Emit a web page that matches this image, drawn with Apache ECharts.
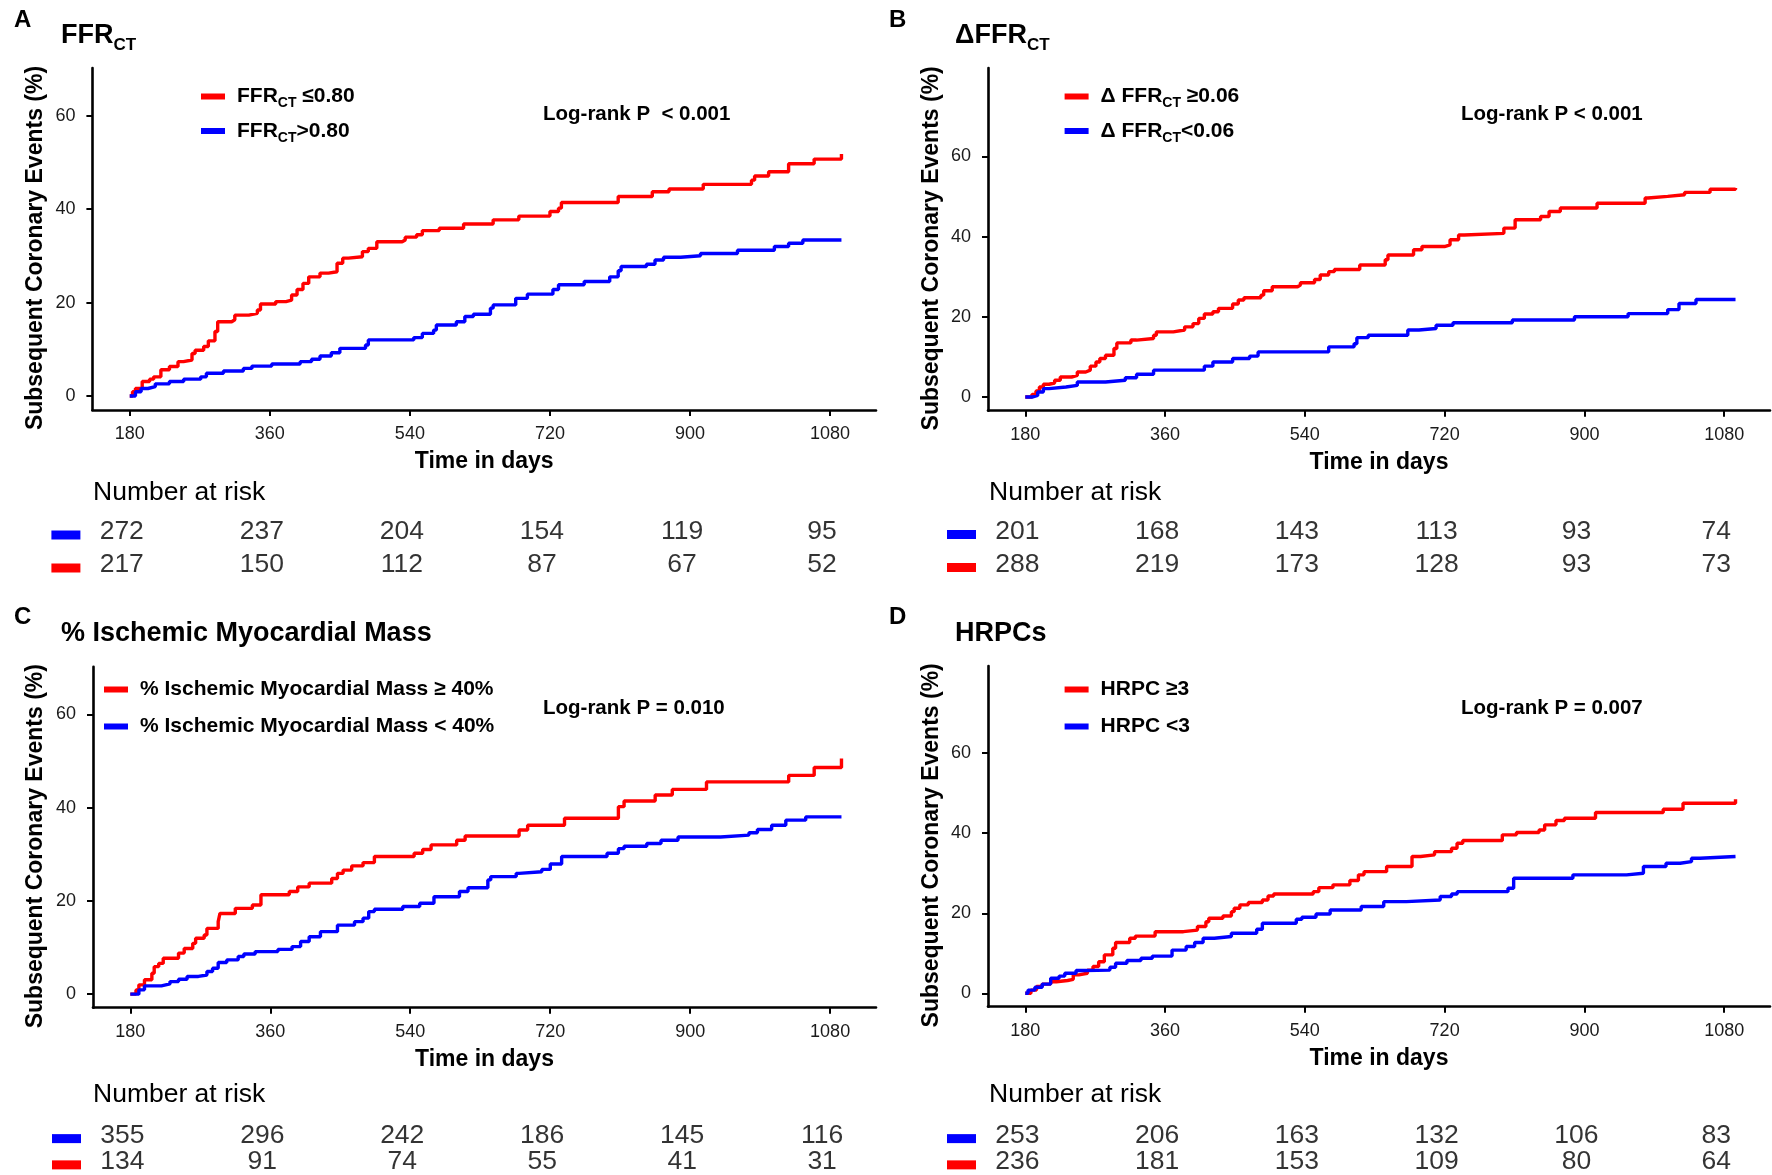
<!DOCTYPE html>
<html><head><meta charset="utf-8">
<script src="https://cdn.jsdelivr.net/npm/echarts/dist/echarts.min.js"></script>
<style>html,body{margin:0;padding:0;background:#fff}#c{width:1772px;height:1175px}</style>
</head><body><div id="c"></div>
<script>
// ---------- data ----------
const xTicks = [180, 360, 540, 720, 900, 1080];
const yTicks = [0, 20, 40, 60];

// Panel A: FFRct
const ffrLowT = [180,183.6,187.3,196,205.5,210.7,220,231,242,249,260,264,275,281,289.5,293,311,315,333,344,348,367.6,380.7,388,395,402.6,410,424.5,435.5,446.4,453.7,461,479,486.6,497.5,530,534,548.6,556,577.8,609,647,680,720,731,734.7,807.7,851.5,873,917,979,983,1001,1026.7,1059.5,1094.6];
const ffrLowV = [0,0.9,1.6,3.1,3.6,4.1,5.6,6.3,7.35,7.7,9.1,9.8,10.6,11.8,13.8,15.9,16.3,17.3,17.7,18.4,19.7,20.2,20.5,21.6,22.8,24.1,25.5,26.3,26.6,28.4,29.5,29.8,30.9,31.6,33.0,33.4,34.0,34.5,35.4,35.9,36.8,37.7,38.5,39.5,40.2,41.4,42.7,43.7,44.3,45.3,46.2,47.1,48.0,49.7,50.7,51.8];
const ffrHighT = [180,187.3,194.6,203.4,212.8,231,249.3,271.2,278.5,300.4,326,337,362.5,399,413.6,424.5,439,450,483,486.6,545,556,570.5,574,599.7,610.6,621.6,643.5,647,676,691,723.8,731,764,796.8,807.7,811.4,844,855,866,888,913.5,961,1008.4,1026.7,1045,1094.6];
const ffrHighV = [0,0.9,1.6,2.0,2.6,3.1,3.6,4.1,4.85,5.35,5.9,6.4,6.85,7.35,7.85,8.55,9.25,10.2,10.9,12.0,12.5,13.4,14.1,15.2,15.9,17.0,17.5,18.8,19.5,20.9,21.8,22.8,23.8,24.5,25.5,26.8,27.7,28.2,29.1,29.7,30.0,30.5,31.2,32.0,32.7,33.4,33.4];
const riskA_blue = [272, 237, 204, 154, 119, 95];
const riskA_red  = [217, 150, 112, 87, 67, 52];

// Panel B: delta FFRct
const dffrHighT = [180,188.7,193.8,198.2,203.3,210.6,217.8,225.1,239.7,247,257.9,263.7,271,276,283.3,294.2,297.9,316,323.3,345.2,348.8,370.6,385.2,396,403.4,410.6,421.6,428.8,447,454.3,461.6,483.4,487,498,530.7,534.3,552.5,559.8,570.7,578,610.7,643.5,647,680,690.8,719.9,727,738,745.3,796.3,810.8,843.6,854.5,869,916.3,978.2,981.8,1007.3,1029,1061.8,1094.6];
const dffrHighV = [0,0.67,1.5,2.5,3.2,3.5,4.2,5.0,5.4,6.25,6.7,7.7,8.75,9.6,10.4,12.1,13.5,14.2,14.6,15.4,16.25,16.7,17.5,18.3,19.6,20.7,21.25,22.1,23.2,24.2,24.75,25.4,26.5,27.5,27.9,28.5,29.3,30.4,31.25,31.8,32.9,34.2,35.4,36.7,37.5,37.9,39.2,40.4,40.8,42.1,44.2,45.0,46.25,47.1,48.3,49.6,50.0,50.4,51.0,51.8,52.1];
const dffrLowT = [180,188.7,196,203.3,210.6,232.4,247,283.3,308.8,323.3,345.2,410.6,421.6,447,468.9,479.8,570.7,603.4,607,621.6,672.6,687,709,730.8,807.2,887.2,956.3,1007.3,1021.8,1043.7,1094.6];
const dffrLowV = [0,0.4,1.25,2.1,2.5,2.9,3.75,4.2,4.8,5.7,6.7,7.7,8.75,9.6,10.2,11.25,12.5,13.3,14.8,15.4,16.7,17.1,17.9,18.5,19.2,20.0,20.8,21.8,23.3,24.3,24.3];
const riskB_blue = [201, 168, 143, 113, 93, 74];
const riskB_red  = [288, 219, 173, 128, 93, 73];

// Panel C: % ischemic myocardial mass
const ischHighT = [180,187.3,191,198.2,207.7,210.7,216.5,222.3,242,249.3,260.3,264,275,278.5,293,295.3,315,337,348,384.4,395.3,410,439,446.4,453.7,464.7,479.3,493.9,545,556,566.8,599.7,610.6,680,691,738.4,807.7,815,855,877,921,1026.7,1059.5,1094.6];
const ischHighV = [0,0.9,2.0,3.1,4.5,5.9,6.6,7.7,8.8,9.8,10.9,12.0,12.7,14.1,15.55,17.3,18.4,19.1,21.3,22.0,23.0,23.8,24.8,25.9,26.6,27.5,28.2,29.5,30.2,31.0,32.0,33.0,33.9,35.2,36.2,37.7,40.2,41.4,42.7,43.9,45.5,46.9,48.6,50.5];
const ischLowT = [180,191,198.2,220,231,242,253,267.6,278.5,285.8,293,304,318.7,326,340.6,369.8,388,399,410,424.5,446.4,468.3,479.3,486.6,493.9,530.4,552.2,570.5,603.3,614.3,639.8,643.5,676.3,680,709.2,720.1,734.7,793.1,807.7,815,844.2,862.5,884.4,939.1,975.6,986.5,1004.8,1023,1048.6,1094.6];
const ischLowV = [0,0.93,1.78,2.2,2.7,3.2,3.8,4.1,4.85,5.56,6.78,7.35,8.06,8.6,9.13,9.6,10.2,11.3,12.3,13.4,14.8,15.55,16.3,17.7,18.2,18.8,19.5,20.9,22.0,22.8,24.5,25.2,25.9,26.25,26.75,27.9,29.5,30.2,31.2,31.7,32.3,33.0,33.7,34.1,34.6,35.3,36.2,37.3,38.0,38.0];
const riskC_blue = [355, 296, 242, 186, 145, 116];
const riskC_red  = [134, 91, 74, 55, 41, 31];

// Panel D: HRPCs
const hrpcHighT = [180,187.3,194.5,201.8,212.7,220,234.5,241.8,249,260,267.2,274.5,281.8,292.7,296.3,314.5,321.8,347.2,383.6,401.7,412.6,416.3,434.5,445.4,449,456.3,467.2,485.3,492.6,499.9,550.8,558,576.2,598,609,616.2,645.3,678,689,707,728.9,736,743.4,794.3,812.5,841.6,848.8,863.4,874.3,914.3,1001.5,1027,1094.6];
const hrpcHighV = [0,0.8,1.7,2.3,2.9,3.2,3.5,4.6,5.0,5.8,6.7,7.9,9.6,11.25,12.7,13.75,14.3,15.4,15.8,16.7,17.9,18.75,19.3,20.4,21.25,22.1,22.7,23.3,24.3,24.8,25.4,26.4,27.1,28.2,29.6,30.4,31.7,34.2,34.6,35.4,36.25,37.5,38.2,39.6,40.2,40.8,42.1,43.2,43.75,45.2,46.0,47.5,48.5];
const hrpcLowT = [180,183.6,192.4,201.8,212.7,223.6,230.9,245.4,256.3,289,296.3,310.9,329,343.6,369,387.2,398.1,409,423.5,445.4,478,485.3,529,536.2,554.4,572.6,612.6,641.6,670.7,714.3,728.9,736.2,801.6,808.9,885.2,954.3,976,1005.1,1023.3,1037.9,1048.8,1094.6];
const hrpcLowV = [0,0.8,1.5,2.3,3.75,4.3,5.0,5.7,5.8,6.5,7.5,8.2,8.75,9.3,10.8,11.7,12.7,13.75,14.2,15.0,16.0,17.5,18.5,19.0,19.8,20.8,21.7,22.9,23.3,24.2,24.8,25.4,26.25,28.75,29.6,30.0,31.7,32.5,32.9,33.75,34.2,34.2];
const riskD_blue = [253, 206, 163, 132, 106, 83];
const riskD_red  = [236, 181, 153, 109, 80, 64];

// ---------- layout / style ----------
const FONT = '"Liberation Sans", Arial, Helvetica, sans-serif';
const RED = '#FF0000', BLUE = '#0000FF';
const panels = [
  {letter:'A', title:'{m|FFR}{s|CT}', lr:'Log-rank P  < 0.001',
   redName:'{m|FFR}{s|CT}{m| ≤0.80}', blueName:'{m|FFR}{s|CT}{m|>0.80}',
   red:[ffrLowT, ffrLowV], blue:[ffrHighT, ffrHighV], riskBlue:riskA_blue, riskRed:riskA_red,
   gl:92.4, gt:68, gw:783.6, gh:342, ymin:-3, ymax:70.2,
   lx:0, ly:0, rTop:515.5, rH:66, keyX:201, lgTop:86, lgGap:10},
  {letter:'B', title:'{m|ΔFFR}{s|CT}', lr:'Log-rank P < 0.001',
   redName:'{m|Δ FFR}{s|CT}{m| ≥0.06}', blueName:'{m|Δ FFR}{s|CT}{m|<0.06}',
   red:[dffrHighT, dffrHighV], blue:[dffrLowT, dffrLowV], riskBlue:riskB_blue, riskRed:riskB_red,
   gl:988, gt:68, gw:782, gh:342.7, ymin:-3.4, ymax:82,
   lx:895.6, ly:0, rTop:515, rH:66, keyX:1064.6, lgTop:86, lgGap:10},
  {letter:'C', title:'{m|% Ischemic Myocardial Mass}', lr:'Log-rank P = 0.010',
   redName:'{m|% Ischemic Myocardial Mass ≥ 40%}', blueName:'{m|% Ischemic Myocardial Mass < 40%}',
   red:[ischHighT, ischHighV], blue:[ischLowT, ischLowV], riskBlue:riskC_blue, riskRed:riskC_red,
   gl:93, gt:666.7, gw:783, gh:341, ymin:-2.9, ymax:70.2,
   lx:0, ly:597.7, rTop:1122.5, rH:54, keyX:104, lgTop:679, lgGap:16},
  {letter:'D', title:'{m|HRPCs}', lr:'Log-rank P = 0.007',
   redName:'{m|HRPC ≥3}', blueName:'{m|HRPC <3}',
   red:[hrpcHighT, hrpcHighV], blue:[hrpcLowT, hrpcLowV], riskBlue:riskD_blue, riskRed:riskD_red,
   gl:988, gt:666, gw:782, gh:340.7, ymin:-3.35, ymax:81.8,
   lx:895.6, ly:597.7, rTop:1122.5, rH:54, keyX:1064.6, lgTop:679, lgGap:16}
];

const grid = [], xAxis = [], yAxis = [], series = [], legend = [], graphic = [];
const zip = (t, v) => t.map((d, i) => [d, v[i]]);
const richLegend = {
  m: {fontSize: 21, fontWeight: 'bold', fontFamily: FONT, color: '#000', lineHeight: 28},
  s: {fontSize: 14, fontWeight: 'bold', fontFamily: FONT, color: '#000', lineHeight: 14, verticalAlign: 'bottom'}
};
const richTitle = {
  m: {fontSize: 27, fontWeight: 'bold', fontFamily: FONT, color: '#000', lineHeight: 36},
  s: {fontSize: 17, fontWeight: 'bold', fontFamily: FONT, color: '#000', lineHeight: 17, verticalAlign: 'bottom'}
};

panels.forEach((p, i) => {
  const mi = 2 * i, ri = 2 * i + 1;
  grid.push({left: p.gl, top: p.gt, width: p.gw, height: p.gh, containLabel: false});
  xAxis.push({
    type: 'value', gridIndex: mi, min: 132, max: 1139,
    axisLine: {show: true, onZero: false, lineStyle: {color: '#000', width: 2.6}},
    axisTick: {show: true, length: 6, lineStyle: {color: '#000', width: 2}, customValues: xTicks},
    axisLabel: {customValues: xTicks, fontSize: 18, color: '#1a1a1a', margin: 15, fontFamily: FONT,
                formatter: v => String(v)},
    splitLine: {show: false},
    name: 'Time in days', nameLocation: 'middle', nameGap: 40,
    nameTextStyle: {fontSize: 23, fontWeight: 'bold', color: '#000', fontFamily: FONT}
  });
  yAxis.push({
    type: 'value', gridIndex: mi, min: p.ymin, max: p.ymax,
    axisLine: {show: true, onZero: false, lineStyle: {color: '#000', width: 2.6}},
    axisTick: {show: true, length: 6, lineStyle: {color: '#000', width: 2}, customValues: yTicks},
    axisLabel: {customValues: yTicks, fontSize: 18, color: '#1a1a1a', margin: 17, fontFamily: FONT,
                formatter: v => String(v)},
    splitLine: {show: false}
  });
  const redN = p.letter + 'red', blueN = p.letter + 'blue';
  series.push({
    name: redN, type: 'line', step: 'end', xAxisIndex: mi, yAxisIndex: mi,
    data: zip(p.red[0], p.red[1]), showSymbol: false, symbol: 'none',
    lineStyle: {color: RED, width: 3.4}, itemStyle: {color: RED}, silent: true
  });
  series.push({
    name: blueN, type: 'line', step: 'end', xAxisIndex: mi, yAxisIndex: mi,
    data: zip(p.blue[0], p.blue[1]), showSymbol: false, symbol: 'none',
    lineStyle: {color: BLUE, width: 3.4}, itemStyle: {color: BLUE}, silent: true
  });
  const names = {}; names[redN] = p.redName; names[blueN] = p.blueName;
  legend.push({
    orient: 'vertical', left: p.keyX, top: p.lgTop, padding: 0, itemGap: p.lgGap,
    itemWidth: 24, itemHeight: 6, selectedMode: false,
    data: [{name: redN, icon: 'rect'}, {name: blueN, icon: 'rect'}],
    formatter: n => names[n],
    textStyle: {padding: [0, 0, 0, 7], rich: richLegend}
  });

  // risk table grid
  grid.push({left: p.gl, top: p.rTop, width: p.gw, height: p.rH, containLabel: false});
  xAxis.push({type: 'value', gridIndex: ri, min: 132, max: 1139, show: false});
  yAxis.push({
    type: 'category', gridIndex: ri, data: ['b', 'r'], inverse: true,
    axisLine: {show: false}, axisTick: {show: false}, splitLine: {show: false},
    axisLabel: {
      margin: 12, padding: [6, 0, 0, 0], formatter: v => v === 'b' ? '{b| }' : '{r| }',
      rich: {b: {width: 29, height: 9, backgroundColor: BLUE},
             r: {width: 29, height: 9, backgroundColor: RED}}
    }
  });
  const riskLabel = {show: true, position: 'inside', offset: [-8, 0], formatter: q => q.value[2],
                     fontSize: 26.5, color: '#000', fontFamily: FONT};
  series.push({
    type: 'scatter', xAxisIndex: ri, yAxisIndex: ri, symbolSize: 1,
    itemStyle: {color: 'rgba(0,0,0,0)'}, silent: true, label: riskLabel,
    data: xTicks.map((t, k) => [t, 'b', p.riskBlue[k]])
  });
  series.push({
    type: 'scatter', xAxisIndex: ri, yAxisIndex: ri, symbolSize: 1,
    itemStyle: {color: 'rgba(0,0,0,0)'}, silent: true, label: riskLabel,
    data: xTicks.map((t, k) => [t, 'r', p.riskRed[k]])
  });

  // texts
  graphic.push({type: 'text', x: (p.lx ? 889 : 14), y: 20 + p.ly,
    style: {text: p.letter, fontSize: 24, fontWeight: 'bold', fontFamily: FONT, fill: '#000', verticalAlign: 'middle'}});
  graphic.push({type: 'text', x: (p.lx ? 955 : 61), y: 36 + p.ly,
    style: {text: p.title, rich: richTitle, verticalAlign: 'middle'}});
  graphic.push({type: 'text', x: (p.lx ? 1461 : 543), y: (p.ly ? 708.5 : 114.5),
    style: {text: p.lr, fontSize: 20.5, fontWeight: 'bold', fontFamily: FONT, fill: '#000', verticalAlign: 'middle'}});
  graphic.push({type: 'text', x: (p.lx ? 932 : 36), y: p.gt + p.gh / 2 + 9, rotation: Math.PI / 2,
    style: {text: 'Subsequent Coronary Events (%)', fontSize: 23, fontWeight: 'bold', fontFamily: FONT, fill: '#000',
            align: 'center', verticalAlign: 'middle'}});
  graphic.push({type: 'text', x: (p.lx ? 989 : 93), y: (p.ly ? 1095 : 493),
    style: {text: 'Number at risk', fontSize: 26.5, fontFamily: FONT, fill: '#000', verticalAlign: 'middle'}});
});

const chart = echarts.init(document.getElementById('c'), null, {renderer: 'canvas'});
chart.setOption({animation: false, backgroundColor: '#fff', grid, xAxis, yAxis, series, legend, graphic});
</script></body></html>
